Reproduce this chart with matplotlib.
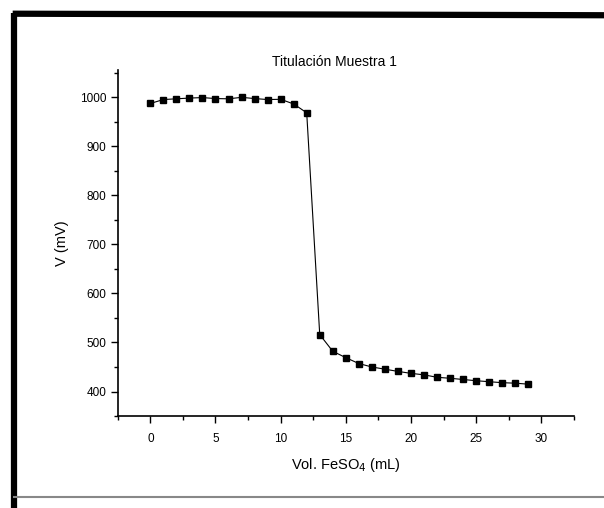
import matplotlib
matplotlib.use("Agg")
import matplotlib.pyplot as plt
from matplotlib.ticker import MultipleLocator
from matplotlib.lines import Line2D

plt.rcParams['font.family'] = ['Liberation Sans', 'DejaVu Sans']

vol_ml = list(range(0, 30))
voltage_mv = [987, 995, 996.5, 998, 999, 997, 996.5, 999.5, 997, 995, 995.5, 986, 968,
              516, 482, 469, 457, 450, 445.5, 441, 437, 434, 429, 427, 424.5, 422, 420, 418, 417, 415]
title = "Titulación Muestra 1"
xlabel = r"Vol. FeSO$_4$ (mL)"
ylabel = "V (mV)"

fig = plt.figure(figsize=(6.04, 5.08), dpi=100)
ax = fig.add_axes([0.195, 0.181, 0.755, 0.681])

ax.plot(vol_ml, voltage_mv, color='black', lw=0.8, marker='s', ms=4.6,
        markerfacecolor='black', markeredgecolor='black')

ax.set_xlim(-2.5, 32.5)
ax.set_ylim(350, 1055)
ax.xaxis.set_major_locator(MultipleLocator(5))
ax.xaxis.set_minor_locator(MultipleLocator(2.5))
ax.yaxis.set_major_locator(MultipleLocator(100))
ax.yaxis.set_minor_locator(MultipleLocator(50))
ax.set_yticks([400, 500, 600, 700, 800, 900, 1000])

for s in ['top', 'right']:
    ax.spines[s].set_visible(False)
for s in ['left', 'bottom']:
    ax.spines[s].set_linewidth(1.2)

ax.tick_params(which='major', direction='out', length=5, width=1, labelsize=8.5)
ax.tick_params(axis='x', which='major', pad=7)
ax.tick_params(axis='y', which='major', pad=3)
ax.tick_params(which='minor', direction='out', length=3, width=1)

ax.set_title(title, fontsize=10, pad=3, x=0.475)
ax.set_xlabel(xlabel, fontsize=10.5, labelpad=8)
ax.set_ylabel(ylabel, fontsize=10.5, labelpad=8)

# scanned-page border
fig.add_artist(Line2D([0.021, 1.0], [0.973, 0.970], transform=fig.transFigure,
                      color='black', lw=4.5, solid_capstyle='butt'))
fig.add_artist(Line2D([0.024, 0.024], [0.0, 0.975], transform=fig.transFigure,
                      color='black', lw=4.5, solid_capstyle='butt'))
fig.add_artist(Line2D([0.021, 1.0], [0.022, 0.022], transform=fig.transFigure,
                      color='#888888', lw=1.5, solid_capstyle='butt'))

fig.savefig('out.png', dpi=100)
